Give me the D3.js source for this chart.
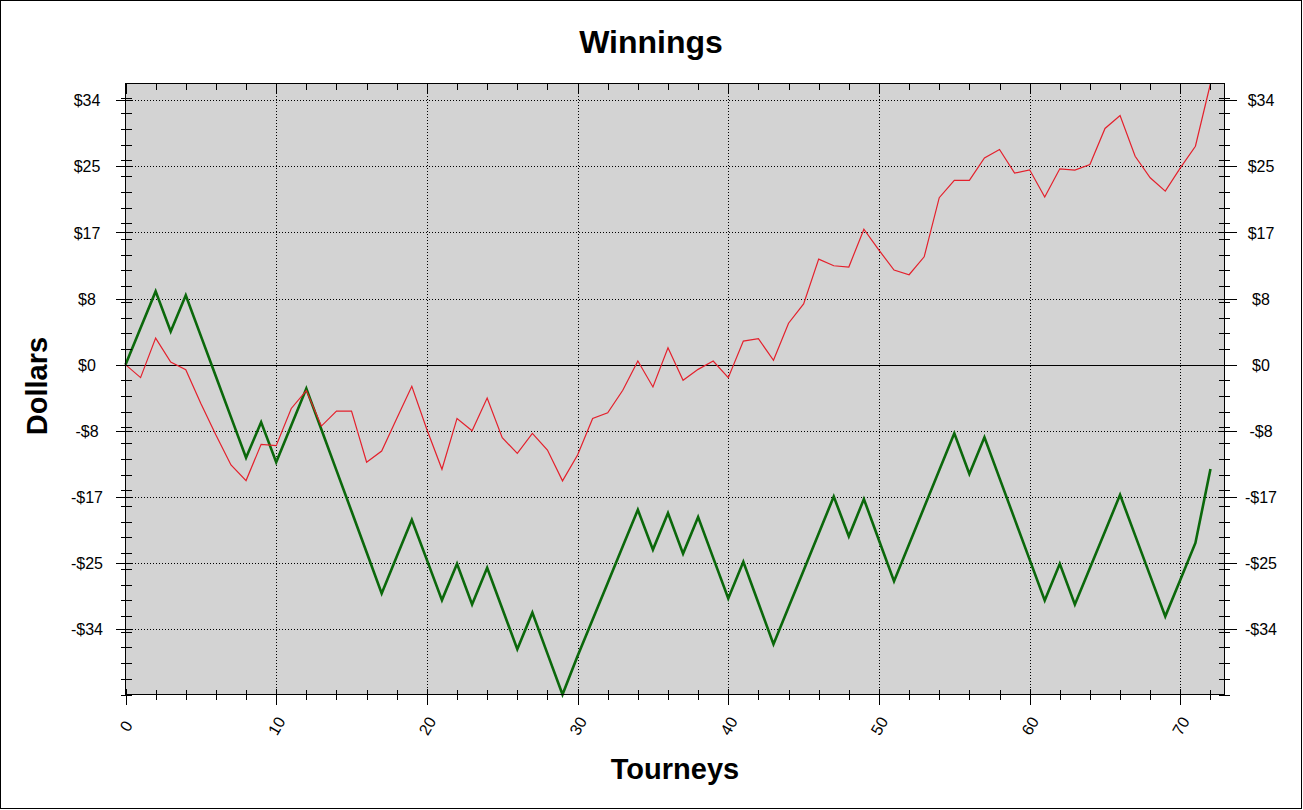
<!DOCTYPE html>
<html>
<head>
<meta charset="utf-8">
<script src="https://cdn.jsdelivr.net/npm/d3@7"></script>
<style>
  html, body { margin: 0; padding: 0; background: #fff; }
  svg { display: block; }
  text { font-family: Arial, "Liberation Sans", sans-serif; }
</style>
</head>
<body>
<svg id="chart" width="1303" height="810"></svg>
<script>
// ---------------- data ----------------
const tourneys = [0,1,2,3,4,5,6,7,8,9,10,11,12,13,14,15,16,17,18,19,20,21,22,23,24,25,26,27,28,29,30,31,32,33,34,35,36,37,38,39,40,41,42,43,44,45,46,47,48,49,50,51,52,53,54,55,56,57,58,59,60,61,62,63,64,65,66,67,68,69,70,71,72];

const redSeries = [0, -1.65, 3.38, 0.33, -0.64, -4.95, -8.97, -12.77, -14.76, -10.15,
  -10.32, -5.58, -3.3, -7.82, -5.92, -5.92, -12.43, -11.0, -6.85, -2.75,
  -8.25, -13.32, -6.85, -8.42, -4.24, -9.31, -11.29, -8.75, -10.87, -14.8,
  -11.5, -6.85, -6.14, -3.26, 0.46, -2.84, 2.16, -1.99, -0.6, 0.46,
  -1.65, 3.0, 3.3, 0.55, 5.28, 7.74, 13.44, 12.59, 12.43, 17.25,
  14.58, 12.05, 11.45, 13.73, 21.26, 23.46, 23.46, 26.33, 27.39, 24.39,
  24.81, 21.34, 24.94, 24.77, 25.49, 30.08, 31.73, 26.54, 23.79, 22.1,
  25.06, 27.81, 35.8];

const greenSeries = [0, 4.67, 9.33, 4.22, 8.83, 3.66, -1.51, -6.68, -11.85, -7.32,
  -12.43, -7.74, -3.04, -8.25, -13.46, -18.67, -23.88, -29.13, -24.44, -19.75,
  -24.86, -29.98, -25.36, -30.53, -25.87, -31.05, -36.23, -31.58, -36.8, -42.0,
  -37.1, -32.45, -27.8, -23.13, -18.48, -23.55, -18.9, -24.06, -19.4, -24.6,
  -29.77, -25.11, -30.35, -35.6, -30.9, -26.2, -21.5, -16.79, -21.86, -17.12,
  -22.35, -27.57, -22.87, -18.16, -13.46, -8.75, -13.91, -9.26, -14.45, -19.64,
  -24.83, -30.02, -25.36, -30.53, -25.88, -21.23, -16.58, -21.74, -26.9, -32.05,
  -27.38, -22.7, -13.28];

const yTickValues = [-33.68, -25.26, -16.84, -8.42, 0, 8.42, 16.84, 25.26, 33.68];
const yTickLabels = ["-$34", "-$25", "-$17", "-$8", "$0", "$8", "$17", "$25", "$34"];
const yMinorTicks = [-42,-40,-38,-36,-34,-32,-30,-28,-26,-24,-22,-20,-18,-16,-14,-12,-10,-8,-6,-4,-2,0,2,4,6,8,10,12,14,16,18,20,22,24,26,28,30,32,34];
const xTickValues = [0, 10, 20, 30, 40, 50, 60, 70];
const xTickLabels = ["0", "10", "20", "30", "40", "50", "60", "70"];
const xMinorTicks = [0,2,4,6,8,10,12,14,16,18,20,22,24,26,28,30,32,34,36,38,40,42,44,46,48,50,52,54,56,58,60,62,64,66,68,70,72];

const titleText = "Winnings";
const xTitle = "Tourneys";
const yTitle = "Dollars";

// ---------------- layout ----------------
const svg = d3.select("#chart");
const L = 125.5, R = 1224.5, T = 83.5, B = 694.5;

const x = d3.scaleLinear().domain([0, 72.93]).range([L, R]);
const y = d3.scaleLinear().domain([-42.0, 35.8]).range([B, T]);

// outer frame
svg.append("rect").attr("x", 0.5).attr("y", 0.5).attr("width", 1301).attr("height", 808)
  .attr("fill", "#fff").attr("stroke", "#000").attr("stroke-width", 1);

// plot background
svg.append("rect").attr("x", L).attr("y", T).attr("width", R - L).attr("height", B - T)
  .attr("fill", "#d3d3d3");

// gridlines
const grid = svg.append("g").attr("shape-rendering", "crispEdges");
grid.selectAll("line.vg").data(xTickValues.filter(d => d > 0)).enter().append("line")
  .attr("x1", d => Math.round(x(d)) + 0.5).attr("x2", d => Math.round(x(d)) + 0.5)
  .attr("y1", T).attr("y2", B)
  .attr("stroke", "#000").attr("stroke-width", 1).attr("stroke-dasharray", "1,2");
grid.selectAll("line.hg").data(yTickValues.filter(d => d !== 0)).enter().append("line")
  .attr("x1", L).attr("x2", R)
  .attr("y1", d => Math.round(y(d)) + 0.5).attr("y2", d => Math.round(y(d)) + 0.5)
  .attr("stroke", "#000").attr("stroke-width", 1).attr("stroke-dasharray", "1,2");

// zero line
svg.append("line").attr("x1", L).attr("x2", R)
  .attr("y1", Math.round(y(0)) + 0.5).attr("y2", Math.round(y(0)) + 0.5)
  .attr("stroke", "#000").attr("stroke-width", 1).attr("shape-rendering", "crispEdges");

// data lines
const line = d3.line().x((d, i) => x(tourneys[i])).y(d => y(d));
svg.append("path").datum(greenSeries).attr("d", line)
  .attr("fill", "none").attr("stroke", "#0b680b").attr("stroke-width", 2.6)
  .attr("stroke-linejoin", "miter");
svg.append("path").datum(redSeries).attr("d", line)
  .attr("fill", "none").attr("stroke", "#e4202c").attr("stroke-width", 1.2)
  .attr("stroke-linejoin", "miter");

// plot border
svg.append("rect").attr("x", L).attr("y", T).attr("width", R - L).attr("height", B - T)
  .attr("fill", "none").attr("stroke", "#000").attr("stroke-width", 1)
  .attr("shape-rendering", "crispEdges");

// ---------------- axes ----------------
function styleTicks(g, inner, outer, sign, vertical) {
  g.select(".domain").remove();
  g.selectAll(".tick line").attr("stroke", "#000").attr("shape-rendering", "crispEdges");
  if (vertical) {
    g.selectAll(".tick line").attr("x1", sign * inner).attr("x2", -sign * outer);
  } else {
    g.selectAll(".tick line").attr("y1", sign * inner).attr("y2", -sign * outer);
  }
}

const labelFont = 16;

// left minor
const lm = svg.append("g").attr("transform", `translate(${L},0)`)
  .call(d3.axisLeft(y).tickValues(yMinorTicks).tickFormat(""));
styleTicks(lm, 6, 5, 1, true);
// left major
const lM = svg.append("g").attr("transform", `translate(${L},0)`)
  .call(d3.axisLeft(y).tickValues(yTickValues).tickFormat((d, i) => yTickLabels[i]));
styleTicks(lM, 6, 10, 1, true);
lM.selectAll(".tick text").attr("x", -38.5).attr("dy", "0.35em")
  .attr("text-anchor", "middle").attr("font-size", labelFont).attr("fill", "#000")
  .attr("font-family", "Arial, 'Liberation Sans', sans-serif");

// right minor
const rm = svg.append("g").attr("transform", `translate(${R},0)`)
  .call(d3.axisRight(y).tickValues(yMinorTicks).tickFormat(""));
styleTicks(rm, 6, 5.5, -1, true);
// right major
const rM = svg.append("g").attr("transform", `translate(${R},0)`)
  .call(d3.axisRight(y).tickValues(yTickValues).tickFormat((d, i) => yTickLabels[i]));
styleTicks(rM, 6, 12, -1, true);
rM.selectAll(".tick text").attr("x", 36.5).attr("dy", "0.35em")
  .attr("text-anchor", "middle").attr("font-size", labelFont).attr("fill", "#000")
  .attr("font-family", "Arial, 'Liberation Sans', sans-serif");

// bottom minor
const bm = svg.append("g").attr("transform", `translate(0,${B})`)
  .call(d3.axisBottom(x).tickValues(xMinorTicks).tickFormat(""));
styleTicks(bm, 5, 5, -1, false);
// bottom major
const bM = svg.append("g").attr("transform", `translate(0,${B})`)
  .call(d3.axisBottom(x).tickValues(xTickValues).tickFormat((d, i) => xTickLabels[i]));
styleTicks(bM, 6, 10, -1, false);
bM.selectAll(".tick text").attr("x", 0).attr("y", 0).attr("dy", "0.35em")
  .attr("text-anchor", "middle").attr("font-size", labelFont).attr("fill", "#000")
  .attr("font-family", "Arial, 'Liberation Sans', sans-serif")
  .attr("transform", "translate(0,31.5) rotate(-60)");

// top minor / major (inside only)
const tm = svg.append("g").attr("transform", `translate(0,${T})`)
  .call(d3.axisTop(x).tickValues(xMinorTicks).tickFormat(""));
styleTicks(tm, 6, 0, 1, false);
const tM = svg.append("g").attr("transform", `translate(0,${T})`)
  .call(d3.axisTop(x).tickValues(xTickValues).tickFormat(""));
styleTicks(tM, 10, 0, 1, false);

// ---------------- titles ----------------
svg.append("text").attr("x", 651).attr("y", 53).attr("text-anchor", "middle")
  .attr("font-size", 32).attr("font-weight", "bold").attr("fill", "#000").text(titleText);
svg.append("text").attr("x", 675).attr("y", 779).attr("text-anchor", "middle")
  .attr("font-size", 29).attr("font-weight", "bold").attr("fill", "#000").text(xTitle);
svg.append("text").attr("transform", "translate(47,386) rotate(-90)").attr("text-anchor", "middle")
  .attr("font-size", 29).attr("font-weight", "bold").attr("fill", "#000").text(yTitle);
</script>
</body>
</html>
